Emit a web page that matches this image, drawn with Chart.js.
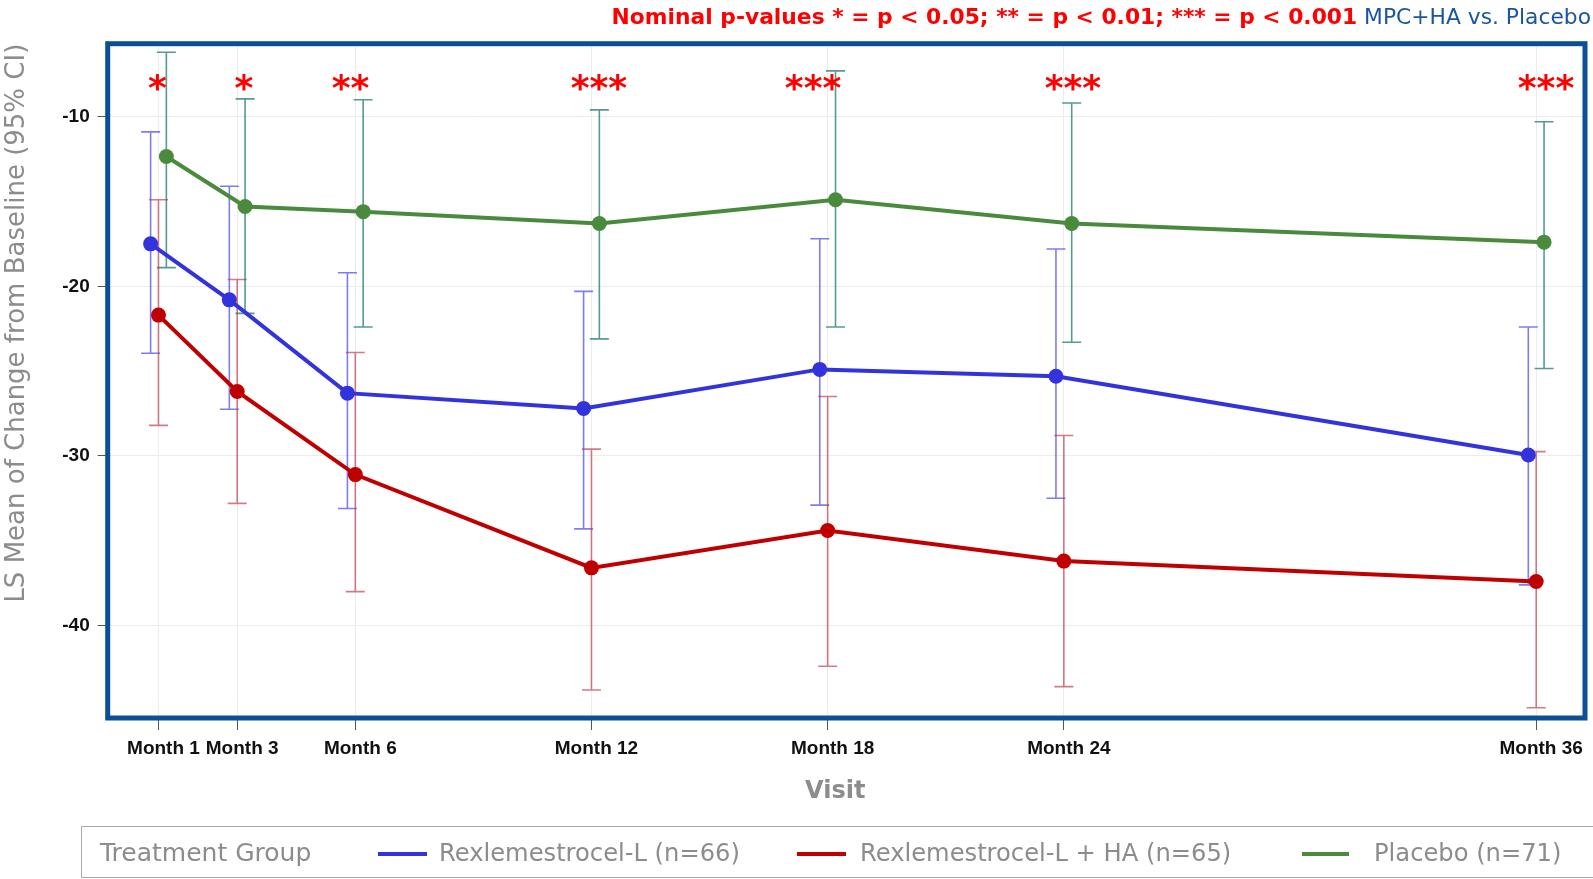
<!DOCTYPE html>
<html>
<head>
<meta charset="utf-8">
<script src="https://cdn.jsdelivr.net/npm/chart.js@4.4.1/dist/chart.umd.min.js"></script>
<style>
  body { margin: 0; background: #fff; overflow: hidden; width: 1593px; height: 879px; position: relative; }
  #chart { position: absolute; left: 0; top: 0; }
  .txt { position: absolute; white-space: nowrap; font-family: "DejaVu Sans", sans-serif; }
  #title { right: 2px; top: 0; line-height: 34px; font-size: 21.8px; }
  #title .red { color: #ff0000; font-weight: bold; }
  #title .blue { color: #1a56a0; }
  #xtitle { left: 805px; top: 775px; line-height: 30px; font-size: 24px; font-weight: bold; color: #8c8c8c; }
  #legend { position: absolute; left: 81px; top: 826px; width: 1600px; height: 50px; border: 1.5px solid #a8a8a8; }
  .lg { color: #8c8c8c; font-size: 24.2px; line-height: 30px; top: 838px; }
  .swatch { position: absolute; height: 4px; top: 852px; }
</style>
</head>
<body>
<canvas id="chart" width="1593" height="879"></canvas>
<div id="title" class="txt"><span class="red">Nominal p-values * = p &lt; 0.05; ** = p &lt; 0.01; *** = p &lt; 0.001</span> <span class="blue">MPC+HA vs. Placebo</span></div>
<div id="xtitle" class="txt">Visit</div>
<div id="legend"></div>
<div class="txt lg" style="left:100px;font-size:25px">Treatment Group</div>
<div class="swatch" style="left:378px;width:49px;background:#3333dd"></div>
<div class="txt lg" style="left:439px">Rexlemestrocel-L (n=66)</div>
<div class="swatch" style="left:797px;width:49px;background:#c00000"></div>
<div class="txt lg" style="left:860px">Rexlemestrocel-L + HA (n=65)</div>
<div class="swatch" style="left:1302px;width:47px;background:#4a8a3c"></div>
<div class="txt lg" style="left:1374px">Placebo (n=71)</div>
<script>
// visits (months) and their tick labels
const months = [1, 3, 6, 12, 18, 24, 36];
const monthLabels = ['Month 1', 'Month 3', 'Month 6', 'Month 12', 'Month 18', 'Month 24', 'Month 36'];
const yTicks = [-10, -20, -30, -40];

// Rexlemestrocel-L (n=66)
const rexMean  = [-17.5, -20.8, -26.3, -27.2, -24.9, -25.3, -29.95];
const rexLower = [-23.95, -27.25, -33.1, -34.3, -32.9, -32.5, -37.6];
const rexUpper = [-10.9, -14.1, -19.2, -20.3, -17.2, -17.8, -22.4];

// Rexlemestrocel-L + HA (n=65)
const haMean  = [-21.7, -26.2, -31.1, -36.6, -34.4, -36.2, -37.4];
const haLower = [-28.2, -32.8, -38.0, -43.8, -42.4, -43.6, -44.85];
const haUpper = [-14.9, -19.6, -23.9, -29.6, -26.5, -28.8, -29.75];

// Placebo (n=71)
const pboMean  = [-12.35, -15.3, -15.6, -16.3, -14.9, -16.3, -17.4];
const pboLower = [-18.9, -21.6, -22.4, -23.1, -22.4, -23.3, -24.85];
const pboUpper = [-6.2, -8.95, -9.0, -9.6, -7.3, -9.2, -10.3];

// significance markers (MPC+HA vs. Placebo)
const starMonths = [0.97, 3.17, 5.88, 12.19, 17.63, 24.23, 36.25];
const starLabels = ['*', '*', '**', '***', '***', '***', '***'];
const starLevel = -8.0;

const mkPoints = (vals, dodge) => vals.map((v, i) => ({ x: months[i] + dodge, y: v }));

const mkSet = (label, vals, lower, upper, color, ciColor, dodge) => ({
    label: label,
    data: mkPoints(vals, dodge),
    lower: lower, upper: upper, dodge: dodge, ciColor: ciColor,
    borderColor: color, backgroundColor: color,
    pointBackgroundColor: color, pointBorderWidth: 0,
    pointRadius: 7.5, borderWidth: 4, tension: 0, clip: false
});

// 95% CI whiskers, drawn under the lines
const errorBars = {
    id: 'errorBars',
    beforeDatasetsDraw(chart) {
        const { ctx, scales: { x, y } } = chart;
        chart.data.datasets.forEach(ds => {
            ctx.save();
            ctx.strokeStyle = ds.ciColor;
            ctx.lineWidth = 1.6;
            months.forEach((m, i) => {
                const px = x.getPixelForValue(m + ds.dodge);
                const t = y.getPixelForValue(ds.upper[i]);
                const b = y.getPixelForValue(ds.lower[i]);
                ctx.beginPath();
                ctx.moveTo(px, t); ctx.lineTo(px, b);
                ctx.moveTo(px - 9.5, t); ctx.lineTo(px + 9.5, t);
                ctx.moveTo(px - 9.5, b); ctx.lineTo(px + 9.5, b);
                ctx.stroke();
            });
            ctx.restore();
        });
    }
};

const stars = {
    id: 'stars',
    afterDatasetsDraw(chart) {
        const { ctx, scales: { x, y } } = chart;
        ctx.save();
        ctx.fillStyle = '#ff0000';
        ctx.font = 'bold 36px "DejaVu Sans"';
        ctx.textAlign = 'center';
        ctx.textBaseline = 'alphabetic';
        starMonths.forEach((m, i) => {
            ctx.fillText(starLabels[i], x.getPixelForValue(m), y.getPixelForValue(starLevel) + 17);
        });
        ctx.restore();
    }
};

const frame = {
    id: 'frame',
    afterDraw(chart) {
        const { ctx, chartArea: a } = chart;
        ctx.save();
        ctx.strokeStyle = '#0b4f96';
        ctx.lineWidth = 5;
        ctx.strokeRect(a.left, a.top, a.right - a.left, a.bottom - a.top);
        ctx.restore();
    }
};

const tickFont = { family: '"Liberation Sans", Arial, sans-serif', size: 19, weight: 'bold' };

new Chart(document.getElementById('chart'), {
    type: 'line',
    data: {
        datasets: [
            mkSet('Rexlemestrocel-L (n=66)', rexMean, rexLower, rexUpper, '#3333dd', 'rgba(70,70,235,0.7)', -0.2),
            mkSet('Rexlemestrocel-L + HA (n=65)', haMean, haLower, haUpper, '#c00000', 'rgba(190,50,70,0.65)', 0),
            mkSet('Placebo (n=71)', pboMean, pboLower, pboUpper, '#4a8a3c', 'rgba(30,120,110,0.75)', 0.2)
        ]
    },
    options: {
        responsive: false,
        animation: false,
        layout: { padding: { top: 43.7, right: 8, bottom: 74.6, left: 0 } },
        plugins: { legend: { display: false }, tooltip: { enabled: false } },
        scales: {
            x: {
                type: 'linear', min: -0.29, max: 37.24,
                afterBuildTicks: s => { s.ticks = months.map(v => ({ value: v })); },
                afterFit: s => { s.height = 86.4; },
                grid: { color: '#ececec', tickColor: '#555', tickLength: 12 },
                border: { display: false },
                ticks: {
                    autoSkip: false, maxRotation: 0, padding: 7, labelOffset: 5, color: '#111', font: tickFont,
                    callback: (v, i) => monthLabels[i]
                },
                title: { display: false }
            },
            y: {
                min: -45.45, max: -5.7,
                afterBuildTicks: s => { s.ticks = yTicks.map(v => ({ value: v })); },
                afterFit: s => { s.width = 107.7; },
                grid: { color: '#ececec', tickColor: '#555', tickLength: 10 },
                border: { display: false },
                ticks: { padding: 8, color: '#111', font: tickFont },
                title: {
                    display: true, text: 'LS Mean of Change from Baseline (95% CI)', color: '#8c8c8c',
                    align: 'end', padding: { top: 1.5 },
                    font: { family: '"DejaVu Sans"', size: 26 }
                }
            }
        }
    },
    plugins: [errorBars, stars, frame]
});
</script>
</body>
</html>
